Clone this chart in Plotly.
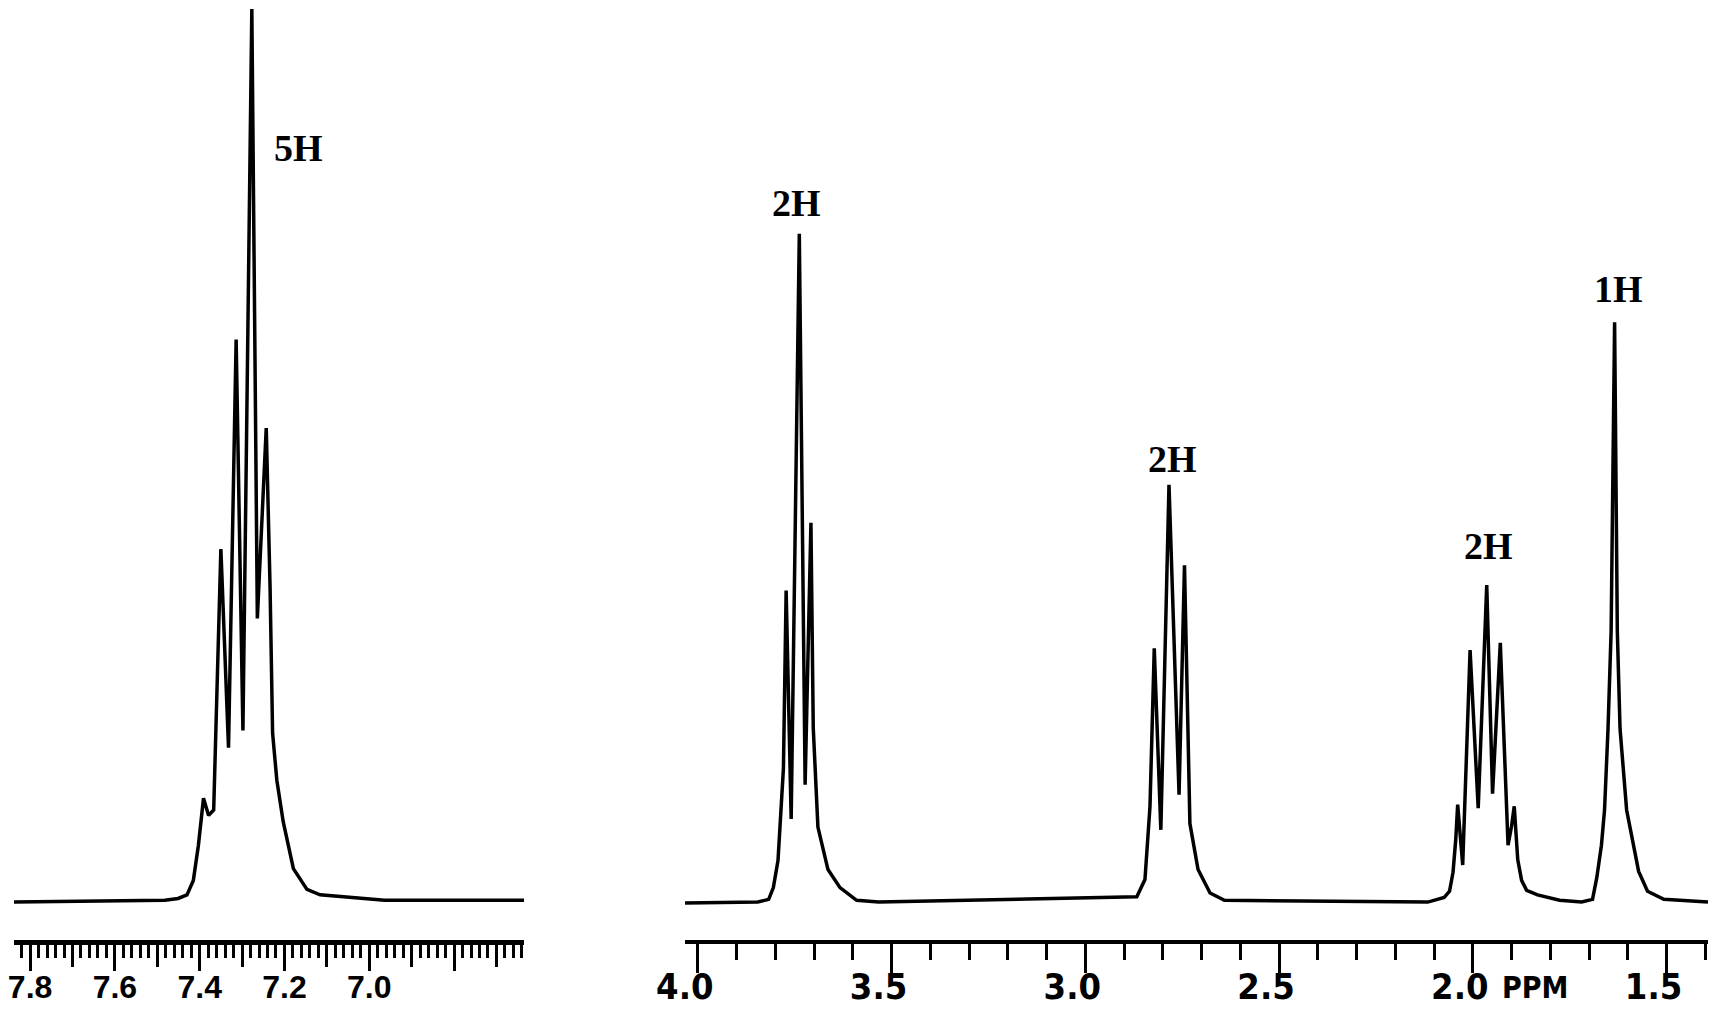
import plotly.graph_objects as go

# aromatic region, left panel (ppm, relative intensity)
arom_ppm = [7.838, 7.612, 7.482, 7.451, 7.430, 7.415, 7.403, 7.391, 7.379, 7.367,
            7.350, 7.332, 7.314, 7.298, 7.277, 7.264, 7.243, 7.234, 7.228, 7.218,
            7.203, 7.179, 7.147, 7.116, 6.964, 6.635]
arom_int = [0.1, 0.2, 0.3, 0.5, 0.9, 2.5, 6.4, 11.6, 9.7, 10.3,
            39.2, 17.2, 62.4, 19.1, 99.0, 31.5, 52.6, 35.0, 18.8, 13.6,
            9.0, 3.8, 1.5, 0.9, 0.3, 0.3]

# aliphatic region, right panel
aliph_ppm = [4.033, 3.845, 3.817, 3.805, 3.793, 3.779, 3.772, 3.759, 3.738, 3.723,
             3.708, 3.702, 3.690, 3.664, 3.633, 3.590, 3.533,
             2.867, 2.846, 2.833, 2.822, 2.805, 2.784, 2.758, 2.744, 2.730,
             2.709, 2.678, 2.641,
             2.116, 2.074, 2.060, 2.051, 2.044, 2.039, 2.033, 2.026, 2.007, 1.986,
             1.964, 1.949, 1.929, 1.909, 1.900, 1.893, 1.884, 1.874, 1.861, 1.833,
             1.776, 1.719,
             1.691, 1.680, 1.668, 1.660, 1.651, 1.643, 1.634, 1.627, 1.620, 1.603,
             1.572, 1.549, 1.507, 1.393]
aliph_int = [0.0, 0.1, 0.4, 1.7, 4.7, 14.9, 34.6, 9.3, 74.1, 13.1,
             42.1, 19.4, 8.4, 3.7, 1.7, 0.3, 0.1,
             0.7, 2.6, 10.7, 28.2, 8.1, 46.3, 12.0, 37.4, 8.8,
             3.7, 1.1, 0.3,
             0.1, 0.6, 1.3, 3.4, 7.0, 10.9, 8.0, 4.2, 28.0, 10.5,
             35.2, 12.1, 28.8, 6.4, 8.5, 10.7, 4.8, 2.5, 1.4, 0.9,
             0.3, 0.1,
             0.4, 2.8, 6.4, 10.3, 19.3, 30.1, 64.3, 30.1, 19.3, 10.3,
             3.5, 1.3, 0.4, 0.1]

# integration labels
lab_text = ["5H", "2H", "2H", "2H", "1H"]
lab_ppm = [7.166, 3.746, 2.774, 1.960, 1.623]
lab_int = [83.6, 77.5, 49.2, 39.5, 68.0]
lab_ref = ["x", "x2", "x2", "x2", "x2"]

sans = "Liberation Sans Narrow, DejaVu Sans Condensed, Liberation Sans, Arial"
tick_font = dict(family=sans, size=36, color="black", weight="bold")

fig = go.Figure()
fig.add_trace(go.Scatter(x=arom_ppm, y=arom_int, mode="lines",
                         line=dict(color="black", width=3.5), xaxis="x", yaxis="y"))
fig.add_trace(go.Scatter(x=aliph_ppm, y=aliph_int, mode="lines",
                         line=dict(color="black", width=3.5), xaxis="x2", yaxis="y2"))
# dummy trace so the overlay axis (0.2 ppm long ticks) gets drawn
fig.add_trace(go.Scatter(x=[7.0], y=[0], mode="none", xaxis="x3", yaxis="y",
                         hoverinfo="skip"))

for t, p, v, r in zip(lab_text, lab_ppm, lab_int, lab_ref):
    fig.add_annotation(x=p, y=v, xref=r, yref="y", text=f"<b>{t}</b>", showarrow=False,
                       font=dict(family="Liberation Serif, Times New Roman, serif",
                                 size=38, color="black"))

fig.add_annotation(x=1.839, y=-0.0515, xref="x2", yref="paper", text="PPM",
                   showarrow=False, yanchor="middle",
                   font=dict(family=sans, size=30, color="black", weight="bold"))

fig.update_layout(
    width=1714, height=1015,
    margin=dict(l=0, r=0, t=0, b=83),
    paper_bgcolor="white", plot_bgcolor="white",
    showlegend=False,
    xaxis=dict(
        domain=[0.0035, 0.30105], range=[7.838, 6.635], anchor="y", automargin=False,
        showgrid=False, zeroline=False, showline=True, linecolor="black", linewidth=5,
        tickmode="linear", tick0=0, dtick=0.1,
        ticks="outside", ticklen=22, tickwidth=3, tickcolor="black",
        showticklabels=False,
        minor=dict(dtick=0.02, tick0=0, ticks="outside", ticklen=13, tickwidth=3,
                   tickcolor="black", showgrid=False),
    ),
    xaxis3=dict(
        overlaying="x", range=[7.838, 6.635], anchor="y", automargin=False,
        showgrid=False, zeroline=False, showline=False,
        tickmode="array", tickvals=[7.8, 7.6, 7.4, 7.2, 7.0, 6.8],
        ticktext=["7.8", "7.6", "7.4", "7.2", "7.0", ""],
        ticks="outside", ticklen=30, tickwidth=3, tickcolor="black",
        ticklabelstandoff=-11, ticklabeloverflow="allow",
        tickfont=dict(family="Liberation Sans, Arial", size=32, color="black",
                      weight="bold"),
    ),
    xaxis2=dict(
        domain=[0.39498, 0.99183], range=[4.033, 1.393], anchor="y2", automargin=False,
        showgrid=False, zeroline=False, showline=True, linecolor="black", linewidth=4,
        tickmode="linear", tick0=0, dtick=0.5, tickformat=".1f",
        ticks="outside", ticklen=29, tickwidth=3, tickcolor="black",
        ticklabelstandoff=-17, ticklabelshift=13,
        tickfont=tick_font,
        minor=dict(dtick=0.1, tick0=0, ticks="outside", ticklen=16, tickwidth=3,
                   tickcolor="black", showgrid=False),
    ),
    yaxis=dict(domain=[0, 1], range=[-4.1, 99.11], anchor="x", visible=False),
    yaxis2=dict(domain=[0, 1], range=[-4.1, 99.11], anchor="x2", visible=False),
)

fig.write_html("out.html")
